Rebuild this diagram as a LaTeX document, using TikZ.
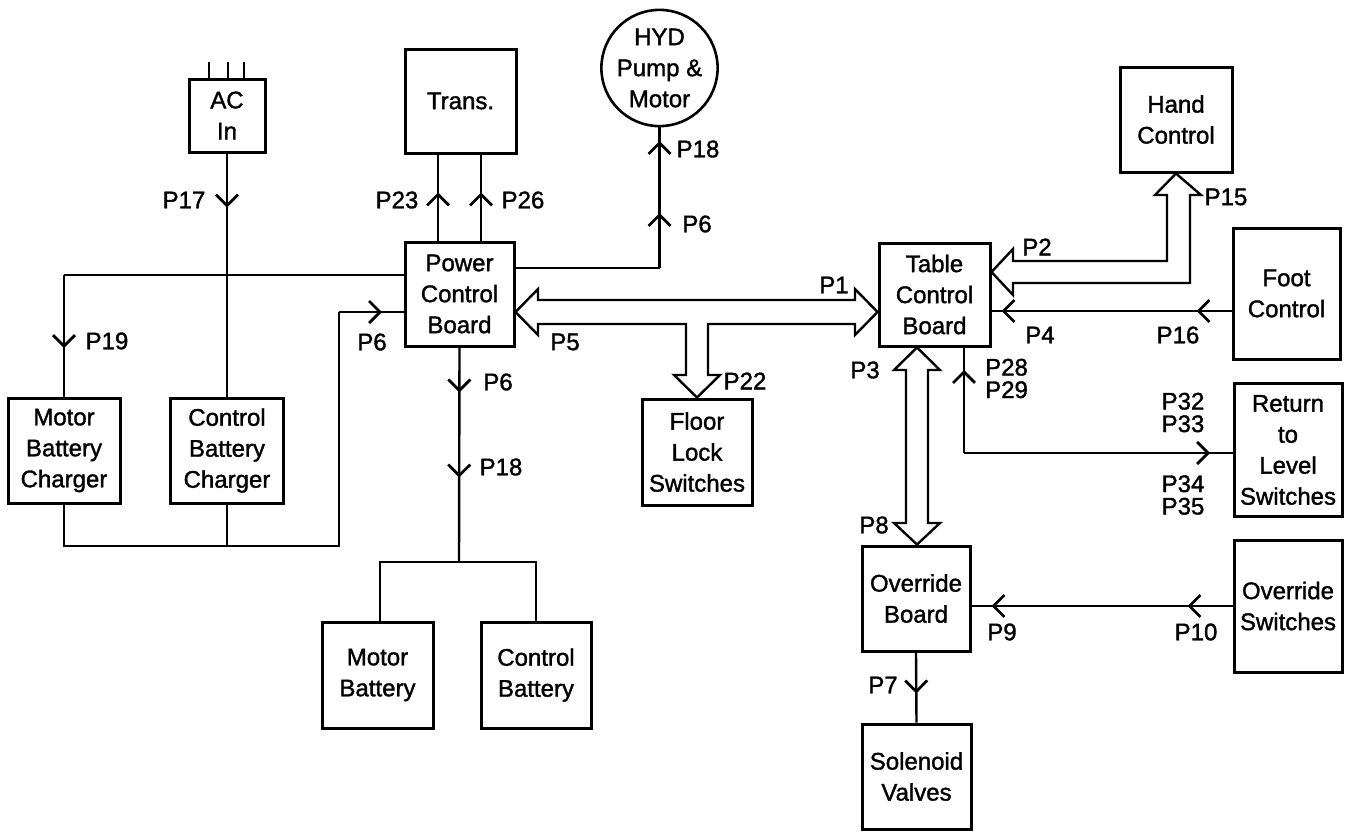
\documentclass[tikz,border=0pt]{standalone}
\usepackage{fontspec}
\setmainfont{Liberation Sans}[FakeBold=1.4]
\usetikzlibrary{arrows.meta,decorations.markings,calc}
\tikzset{cv/.tip={Straight Barb[length=11pt,width=22pt,line width=2.8pt]}}
\begin{document}
\begin{tikzpicture}[x=1pt,y=-1pt,
  box/.style={draw,line width=3pt,align=center,inner sep=0pt,font=\fontsize{24}{31}\selectfont},
  conn/.style={line width=2.4pt},
  lbl/.style={inner sep=0pt,font=\fontsize{24}{24}\selectfont},
  lbl2/.style={inner sep=0pt,align=left,font=\fontsize{24}{22.5}\selectfont},
  bus/.style={line width=2.4pt,line join=miter},
  mk/.style={postaction={decorate},decoration={markings,mark=at position #1 with {\arrow{cv}}}},
  mkk/.style 2 args={postaction={decorate},decoration={markings,mark=at position #1 with {\arrow{cv}},mark=at position #2 with {\arrow{cv}}}}
]
\useasboundingbox (0,0) rectangle (1345,833);

% boxes
\node[box,minimum width=76,minimum height=73] (acin) at (227,115.5) {AC\\In};
\node[box,minimum width=111,minimum height=104] (trans) at (460.5,101) {Trans.};
\node[draw,circle,line width=2.6pt,minimum size=110,inner sep=0pt,align=center,font=\fontsize{24}{31}\selectfont] (hyd) at (659.5,68) {HYD\\Pump \&\\Motor};
\node[box,minimum width=109,minimum height=104] (pcb) at (459.5,294) {Power\\Control\\Board};
\node[box,minimum width=112,minimum height=105] (mbc) at (64,450.5) {Motor\\Battery\\Charger};
\node[box,minimum width=113,minimum height=105] (cbc) at (227,450.5) {Control\\Battery\\Charger};
\node[box,minimum width=111,minimum height=106] (mbat) at (377.5,675) {Motor\\Battery};
\node[box,minimum width=110,minimum height=106] (cbat) at (536,675) {Control\\Battery};
\node[box,minimum width=110,minimum height=106] (fls) at (697,452) {Floor\\Lock\\Switches};
\node[box,minimum width=111,minimum height=103] (tcb) at (934.5,294.5) {Table\\Control\\Board};
\node[box,minimum width=112,minimum height=105] (hc) at (1176,119.5) {Hand\\Control};
\node[box,minimum width=107,minimum height=131] (fc) at (1286.5,293.5) {Foot\\Control};
\node[box,minimum width=108,minimum height=133] (rls) at (1288,450) {Return\\to\\Level\\Switches};
\node[box,minimum width=108,minimum height=105] (ob) at (916,598.5) {Override\\Board};
\node[box,minimum width=108,minimum height=132] (ovs) at (1288,606) {Override\\Switches};
\node[box,minimum width=109,minimum height=105] (sv) at (916.5,776.5) {Solenoid\\Valves};

% AC prongs
\draw[conn] ($(acin.north)+(-18,0)$) -- ++(0,-16);
\draw[conn] ($(acin.north)+(1,0)$) -- ++(0,-16);
\draw[conn] ($(acin.north)+(17,0)$) -- ++(0,-16);

% junction coordinates
\coordinate (jL) at (64,275);
\coordinate (jB) at (227,546);
\coordinate (bR) at (339,546);
\coordinate (bT) at (339,312);
\coordinate (hA) at (659.5,268);
\coordinate (jM) at (459,562);
\coordinate (rT) at (964,453);

% left side
\draw[conn,mk=54pt] (acin.south) -- (cbc.north);
\draw[conn] (pcb.west |- jL) -- (jL);
\draw[conn,mk=73pt] (jL) -- (mbc.north);
\draw[conn] (mbc.south) |- (bR) -- (bT);
\draw[conn] (cbc.south) -- (jB);
\draw[conn,mk=43pt] (bT) -- (pcb.west |- bT);

% transformer
\draw[conn,mk=48pt] (pcb.north -| 438,0) -- (trans.south -| 438,0);
\draw[conn,mk=48pt] (pcb.north -| 481,0) -- (trans.south -| 481,0);

% hydraulic pump
\draw[conn] (pcb.east |- hA) -- (hA);
\draw[conn,mkk={55pt}{127pt}] (hA) -- (hyd.south);

% batteries
\draw[conn,mkk={45pt}{130pt}] (pcb.south) -- (jM);
\draw[conn] (mbat.north -| 380,0) -- (380,562) -- (cbat.north |- jM) -- (cbat.north);

% table control board connections
\draw[conn,mk=83pt] (rT) -- (tcb.south -| rT);
\draw[conn,mk=246pt] (rT) -- (rls.west |- rT);
\draw[conn,mkk={35pt}{230pt}] (fc.west |- 0,311) -- (tcb.east |- 0,311);
\draw[conn,mkk={45pt}{241pt}] (ovs.west) -- (ob.east |- ovs.west);
\draw[conn,mk=41pt] (ob.south) -- (sv.north);

% bus P1/P5/P22
\draw[bus] (pcb.east |- 0,312) -- (538,289) -- (538,300) -- (855,300) -- (855,289)
  -- (tcb.west |- 0,312) -- (855,335) -- (855,324) -- (708,324) -- (708,375) -- (720,375)
  -- (fls.north) -- (674,375) -- (686,375) -- (686,324) -- (538,324) -- (538,335) -- cycle;
% bus P2/P15
\draw[bus] (hc.south) -- (1201,195) -- (1190,195) -- (1190,283) -- (1013,283) -- (1013,295)
  -- (tcb.east |- 0,272) -- (1013,249) -- (1013,261) -- (1167,261) -- (1167,195) -- (1155,195) -- cycle;
% bus P3/P8
\draw[bus] (tcb.south -| 917,0) -- (940,370) -- (928,370) -- (928,523) -- (940,523)
  -- (ob.north -| 917,0) -- (894,523) -- (906,523) -- (906,370) -- (894,370) -- cycle;

% labels
\node[lbl] (l17) at (184,200) {P17};
\node[lbl] (l19) at (107,341) {P19};
\node[lbl] (l6a) at (372,342) {P6};
\node[lbl] (l23) at (397,200) {P23};
\node[lbl] (l26) at (523,200) {P26};
\node[lbl] (l18a) at (698,149) {P18};
\node[lbl] (l6b) at (697,224) {P6};
\node[lbl] (l6c) at (498,382) {P6};
\node[lbl] (l18b) at (501,467) {P18};
\node[lbl] (l5) at (565,342) {P5};
\node[lbl] (l22) at (745,381) {P22};
\node[lbl] (l1) at (834,285) {P1};
\node[lbl] (l2) at (1037,247) {P2};
\node[lbl] (l15) at (1226,197) {P15};
\node[lbl] (l4) at (1040,335) {P4};
\node[lbl] (l16) at (1178,335) {P16};
\node[lbl] (l3) at (865,370) {P3};
\node[lbl2,anchor=west] (l28) at (985,378.5) {P28\\P29};
\node[lbl2] (l32) at (1183,412.5) {P32\\P33};
\node[lbl2] (l34) at (1183,495) {P34\\P35};
\node[lbl] (l8) at (874,525) {P8};
\node[lbl] (l9) at (1002,632) {P9};
\node[lbl] (l10) at (1196,632) {P10};
\node[lbl] (l7) at (883,685) {P7};
\end{tikzpicture}
\end{document}
